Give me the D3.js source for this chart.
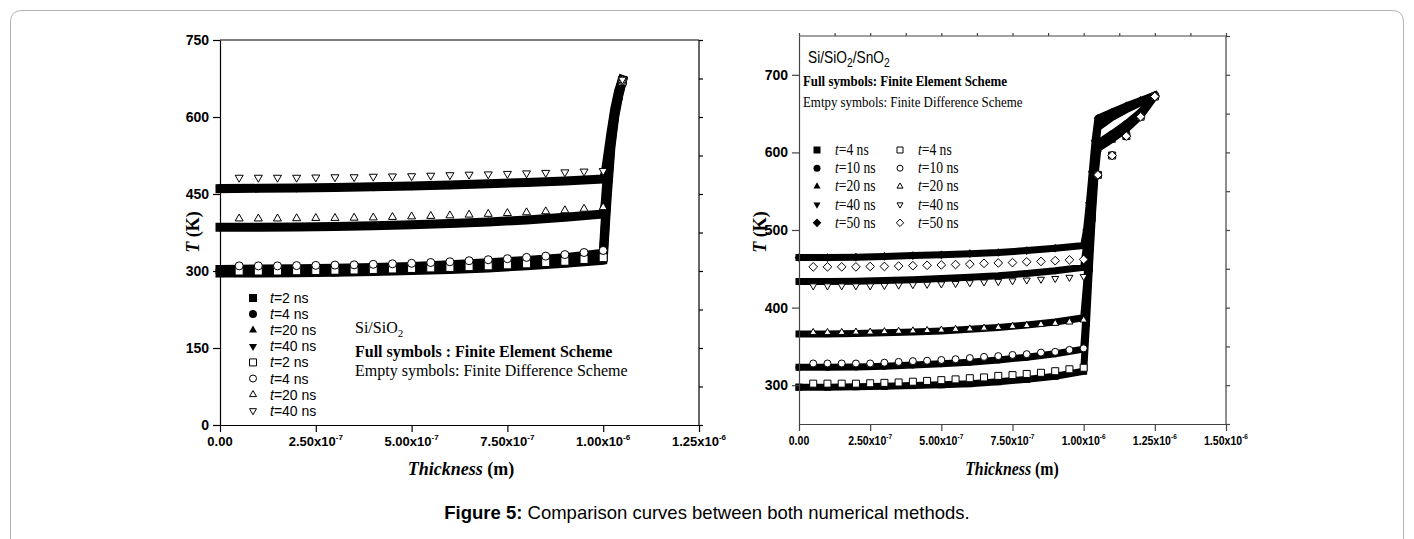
<!DOCTYPE html>
<html>
<head>
<meta charset="utf-8">
<script src="https://cdn.jsdelivr.net/npm/d3@7"></script>
<style>
  html, body { margin: 0; padding: 0; background: #fff; }
  svg { display: block; }
</style>
</head>
<body>
<svg id="fig" width="1414" height="539"></svg>
<script>
// ---------------- Si/SiO2 (left panel) ----------------
// Finite element scheme (full symbols): positions in metres
const siFEx = [0, 1e-7, 2e-7, 3e-7, 4e-7, 5e-7, 6e-7, 7e-7, 8e-7, 9e-7, 1e-6,
               1.005e-6, 1.01e-6, 1.02e-6, 1.03e-6, 1.04e-6, 1.05e-6];
const siFE_2ns  = [296, 296, 296.5, 297.5, 299, 301, 303, 306, 310, 315, 321, 381, 440, 540, 600, 640, 670];
const siFE_4ns  = [303, 304, 304.5, 305.5, 307, 309, 312, 316, 320.5, 326, 334.5, 395, 455, 548, 605, 643, 671];
const siFE_20ns = [385, 385, 385.5, 386.5, 388, 390, 392.5, 395.5, 399.5, 404.5, 411, 430, 480, 558, 610, 646, 672];
const siFE_40ns = [460.5, 461, 461.5, 462.5, 464, 465.5, 467.5, 470, 472.5, 475.5, 479, 490, 515, 568, 615, 650, 673];

// Finite difference scheme (empty symbols)
const siFDx = [5e-8, 1e-7, 1.5e-7, 2e-7, 2.5e-7, 3e-7, 3.5e-7, 4e-7, 4.5e-7, 5e-7, 5.5e-7,
               6e-7, 6.5e-7, 7e-7, 7.5e-7, 8e-7, 8.5e-7, 9e-7, 9.5e-7, 1e-6, 1.05e-6];
const siFD_2ns  = [300, 300, 300, 300.5, 301, 301.5, 302, 303, 304, 305, 306, 307, 308.5, 310, 312, 314, 316.5, 319, 322.5, 326, 670];
const siFD_4ns  = [310, 310, 310, 310.5, 311, 311.5, 312, 313, 314, 315, 316.5, 318, 320, 322, 324, 326.5, 329, 332, 336, 340, 671];
const siFD_20ns = [402, 402, 402, 402.5, 403, 403, 403.5, 404, 405, 406, 407, 408, 409.5, 411, 412.5, 414, 416, 418, 421, 424, 672];
const siFD_40ns = [482, 482, 482, 482, 482.5, 483, 483, 484, 484.5, 485, 486, 487, 488, 488.5, 489.5, 490.5, 491.5, 492.5, 494, 495, 673];

const siTimes = ["2", "4", "20", "40"];
const siShapes = ["square", "circle", "up", "down"];

const siXTicks = [0, 2.5e-7, 5e-7, 7.5e-7, 1e-6, 1.25e-6];
const siXTickMantissa = ["0.00", "2.50", "5.00", "7.50", "1.00", "1.25"];
const siXTickExponent = ["", "-7", "-7", "-7", "-6", "-6"];
const siYTicks = [0, 150, 300, 450, 600, 750];

// ---------------- Si/SiO2/SnO2 (right panel) ----------------
const snFEx = [0, 1e-7, 2e-7, 3e-7, 4e-7, 5e-7, 6e-7, 7e-7, 8e-7, 9e-7, 1e-6,
               1.01e-6, 1.02e-6, 1.03e-6, 1.04e-6, 1.05e-6, 1.1e-6, 1.15e-6, 1.2e-6, 1.25e-6];
const snFE_4ns  = [297.5, 297.5, 298, 298.5, 299.5, 300.5, 302, 304.5, 307.5, 311.5, 318, 380, 450, 515, 570, 605, 617, 630, 647, 672];
const snFE_10ns = [323, 323, 323.5, 324.5, 326, 327.5, 329.5, 332.5, 336, 340.5, 346.5, 400, 465, 525, 580, 612, 624, 637, 652, 672.5];
const snFE_20ns = [366, 366, 366.5, 367.5, 368.5, 370, 372, 374.5, 377.5, 381.5, 387, 430, 485, 540, 595, 632, 645, 655, 664, 673];
const snFE_40ns = [433.5, 433.5, 434, 435, 436, 437.5, 439, 441, 444, 447.5, 452, 480, 520, 560, 605, 638, 649, 658, 666, 673.5];
const snFE_50ns = [464.5, 464.5, 465, 466, 467, 468, 469.5, 471, 473.5, 476.5, 480, 500, 535, 575, 615, 644, 652, 660, 667, 674];

const snFDx = [5e-8, 1e-7, 1.5e-7, 2e-7, 2.5e-7, 3e-7, 3.5e-7, 4e-7, 4.5e-7, 5e-7, 5.5e-7,
               6e-7, 6.5e-7, 7e-7, 7.5e-7, 8e-7, 8.5e-7, 9e-7, 9.5e-7, 1e-6,
               1.05e-6, 1.1e-6, 1.15e-6, 1.2e-6, 1.25e-6];
const snFD_4ns  = [302, 302, 302, 302, 302.5, 303, 303.5, 304.5, 305.5, 306.5, 307.5, 309, 310, 312, 313, 314.5, 316, 318, 320.5, 322.5, 571, 596, 621, 646, 672];
const snFD_10ns = [328, 328, 328, 328, 328, 329, 330, 331, 331.5, 332.5, 333.5, 335, 336.5, 337.5, 339, 340, 342, 343, 345.5, 347.5, 571.5, 596.5, 621.5, 646.5, 672];
const snFD_20ns = [368, 368, 368, 368.5, 368.5, 369, 369.5, 370, 370.5, 371, 372, 372.5, 373.5, 374.5, 375.8, 377, 378.4, 379.7, 381.4, 384, 571, 596, 621, 646, 672];
const snFD_40ns = [428, 428, 428, 428, 428, 428.5, 429, 429.5, 430, 430.5, 431, 432, 433, 433.5, 434.5, 435.5, 436.5, 437.5, 439, 440, 570.5, 595.5, 621, 646, 672];
const snFD_50ns = [452.5, 452.5, 452.5, 452.5, 453, 453, 453.5, 454, 454.5, 455, 455.5, 456, 457, 457.5, 458, 459, 459.5, 460.5, 461.5, 462, 571, 596, 621, 646, 672];

const snTimes = ["4", "10", "20", "40", "50"];
const snShapes = ["square", "circle", "up", "down", "diamond"];

const snXTicks = [0, 2.5e-7, 5e-7, 7.5e-7, 1e-6, 1.25e-6, 1.5e-6];
const snXTickMantissa = ["0.00", "2.50", "5.00", "7.50", "1.00", "1.25", "1.50"];
const snXTickExponent = ["", "-7", "-7", "-7", "-6", "-6", "-6"];
const snYTicks = [300, 400, 500, 600, 700];

// ---------------- drawing ----------------
const svg = d3.select("#fig");
svg.append("rect").attr("width", 1414).attr("height", 539).attr("fill", "#fff");

// rounded page frame
svg.append("path")
  .attr("d", "M10.5,539 V22 Q10.5,10.5 22,10.5 H1392 Q1403.5,10.5 1403.5,22 V539")
  .attr("fill", "none").attr("stroke", "#b4b4b4").attr("stroke-width", 1);

const SANS = "'Liberation Sans', Arial, sans-serif";
const SERIF = "'Liberation Serif', 'Times New Roman', serif";

function shapePath(shape, w) {
  const h = w / 2;
  if (shape === "square") return `M${-h},${-h}h${w}v${w}h${-w}Z`;
  if (shape === "circle") return d3.symbol(d3.symbolCircle, Math.PI * h * h)();
  if (shape === "diamond") { const r = w * 0.62; return `M0,${-r}L${r},0L0,${r}L${-r},0Z`; }
  const H = w * 0.866;
  if (shape === "up") return `M0,${-2 * H / 3}L${h},${H / 3}L${-h},${H / 3}Z`;
  return `M0,${2 * H / 3}L${h},${-H / 3}L${-h},${-H / 3}Z`; // down
}

function zip(xs, ys) { return xs.map((v, i) => [v, ys[i]]); }

// condense a text element horizontally about its anchor x
function squeeze(sel, f) {
  const x0 = +sel.attr("x");
  sel.attr("transform", `translate(${x0},0) scale(${f},1) translate(${-x0},0)`);
}

function drawPanel(p) {
  const g = svg.append("g");
  const x = d3.scaleLinear().domain(p.xDomain).range([p.left, p.right]);
  const y = d3.scaleLinear().domain(p.yDomain).range([p.bottom, p.top]);

  // FE curves: dense full symbols rendered as a thick band
  const line = d3.line().x(d => x(d[0])).y(d => y(d[1])).curve(d3.curveLinear);
  p.fe.forEach((s, i) => {
    const pts = zip(p.feX, s);
    g.append("path").attr("d", line(pts)).attr("fill", "none")
      .attr("stroke", "#000").attr("stroke-width", p.band)
      .attr("stroke-linejoin", "round").attr("stroke-linecap", "square");
    g.selectAll(null).data(pts).join("path")
      .attr("transform", d => `translate(${x(d[0])},${y(d[1])})`)
      .attr("d", shapePath(p.shapes[i], p.feSize))
      .attr("fill", "#000");
  });
  // FD curves: empty symbols
  p.fd.forEach((s, i) => {
    const pts = zip(p.fdX, s);
    g.selectAll(null).data(pts).join("path")
      .attr("transform", d => `translate(${x(d[0])},${y(d[1])})`)
      .attr("d", shapePath(p.shapes[i], p.fdSize))
      .attr("fill", "#fff").attr("stroke", "#000").attr("stroke-width", 1);
  });

  const ax = p.axisColor;
  // frame lines
  g.append("line").attr("x1", p.left).attr("x2", p.right).attr("y1", p.top).attr("y2", p.top).attr("stroke", ax).attr("stroke-width", 1.2);
  g.append("line").attr("x1", p.right).attr("x2", p.right).attr("y1", p.top).attr("y2", p.bottom).attr("stroke", ax).attr("stroke-width", 1.2);

  // bottom axis
  const xMinor = d3.range(p.xDomain[0], p.xDomain[1] + 1e-12, p.xMinorStep);
  const bottom = g.append("g").attr("transform", `translate(0,${p.bottom})`);
  bottom.call(d3.axisBottom(x).tickValues(xMinor).tickSize(4).tickSizeOuter(0).tickFormat(""));
  bottom.call(d3.axisBottom(x).tickValues(p.xTicks).tickSize(7).tickSizeOuter(0).tickFormat(""));
  bottom.selectAll("path.domain, line").attr("stroke", ax).attr("stroke-width", 1.2);

  // x tick labels with superscript exponent
  p.xTicks.forEach((v, i) => {
    const t = g.append("text").attr("x", x(v)).attr("y", p.bottom + 21)
      .attr("text-anchor", "middle").attr("font-family", SANS).attr("font-weight", "bold")
      .attr("font-size", p.tickFont).attr("fill", "#000");
    if (p.xExp[i] === "") {
      t.text(p.xMant[i]);
    } else {
      t.append("tspan").text(p.xMant[i] + "x10");
      t.append("tspan").attr("dy", -6).attr("font-size", p.tickFont * 0.62).text(p.xExp[i]);
    }
    if (p.squeezeTicks) squeeze(t, p.squeezeTicks);
  });

  // left axis
  const yMinor = d3.range(p.yDomain[0], p.yDomain[1] + 1e-9, p.yMinorStep);
  const leftAx = g.append("g").attr("transform", `translate(${p.left},0)`);
  leftAx.call(d3.axisLeft(y).tickValues(yMinor).tickSize(4).tickSizeOuter(0).tickFormat(""));
  leftAx.call(d3.axisLeft(y).tickValues(p.yTicks).tickSize(7).tickSizeOuter(0).tickFormat(""));
  leftAx.selectAll("path.domain, line").attr("stroke", ax).attr("stroke-width", 1.2);
  p.yTicks.forEach(v => {
    g.append("text").attr("x", p.left - 11).attr("y", y(v) + 5)
      .attr("text-anchor", "end").attr("font-family", SANS).attr("font-weight", "bold")
      .attr("font-size", p.yTickFont).attr("fill", "#000").text(v);
  });

  // right axis ticks (outward)
  const rightAx = g.append("g").attr("transform", `translate(${p.right},0)`);
  rightAx.call(d3.axisRight(y).tickValues(yMinor).tickSize(4).tickSizeOuter(0).tickFormat(""));
  rightAx.selectAll("path.domain").remove();
  rightAx.selectAll("line").attr("stroke", ax).attr("stroke-width", 1.2);
  if (p.topTicks) {
    const topAx = g.append("g").attr("transform", `translate(0,${p.top})`);
    topAx.call(d3.axisTop(x).tickValues(xMinor).tickSize(3).tickSizeOuter(0).tickFormat(""));
    topAx.selectAll("path.domain").remove();
    topAx.selectAll("line").attr("stroke", ax).attr("stroke-width", 1.2);
  }

  // axis titles
  const xt = g.append("text").attr("x", p.xTitle[0]).attr("y", p.xTitle[1]).attr("text-anchor", "middle")
    .attr("font-family", SERIF).attr("font-weight", "bold").attr("font-size", 18).attr("fill", "#000");
  xt.append("tspan").attr("font-style", "italic").text("Thickness");
  xt.append("tspan").text(" (m)");
  if (p.squeezeTitle) squeeze(xt, p.squeezeTitle);
  const yt = g.append("text").attr("transform", `translate(${p.yTitle[0]},${p.yTitle[1]}) rotate(-90)`)
    .attr("text-anchor", "middle").attr("font-family", SERIF).attr("font-weight", "bold")
    .attr("font-size", 18).attr("fill", "#000");
  yt.append("tspan").attr("font-style", "italic").text("T");
  yt.append("tspan").text(" (K)");

  return { g, x, y };
}

// ---- left panel ----
const L = drawPanel({
  left: 220, right: 699, top: 40, bottom: 425,
  xDomain: [0, 1.25e-6], yDomain: [0, 750],
  feX: siFEx, fe: [siFE_2ns, siFE_4ns, siFE_20ns, siFE_40ns],
  fdX: siFDx, fd: [siFD_2ns, siFD_4ns, siFD_20ns, siFD_40ns],
  shapes: siShapes, band: 9, feSize: 8, fdSize: 8,
  axisColor: "#000", xTicks: siXTicks, xMant: siXTickMantissa, xExp: siXTickExponent,
  xMinorStep: 1.25e-7, yTicks: siYTicks, yMinorStep: 75,
  tickFont: 13, yTickFont: 14, topTicks: false,
  xTitle: [461, 475], yTitle: [199, 232]
});

// legend: full symbols then empty symbols
const legL = L.g.append("g");
const legRows = siTimes.map((t, i) => ({ t, shape: siShapes[i], full: true }))
  .concat(siTimes.map((t, i) => ({ t, shape: siShapes[i], full: false })));
legRows.forEach((r, i) => {
  const yy = 298 + i * 16.1;
  legL.append("path").attr("transform", `translate(253,${yy})`)
    .attr("d", shapePath(r.shape, r.full ? 8 : 7))
    .attr("fill", r.full ? "#000" : "#fff").attr("stroke", "#000").attr("stroke-width", r.full ? 0 : 1);
  const tx = legL.append("text").attr("x", 270).attr("y", yy + 5)
    .attr("font-family", SANS).attr("font-size", 14).attr("fill", "#000");
  tx.append("tspan").attr("font-style", "italic").text("t");
  tx.append("tspan").text("=" + r.t + " ns");
});

const noteL = L.g.append("g").attr("font-family", SERIF).attr("fill", "#000");
const n1 = noteL.append("text").attr("x", 355).attr("y", 333).attr("font-size", 16);
n1.append("tspan").text("Si/SiO");
n1.append("tspan").attr("dy", 4).attr("font-size", 11).text("2");
noteL.append("text").attr("x", 355).attr("y", 357).attr("font-size", 16).attr("font-weight", "bold")
  .text("Full symbols : Finite Element Scheme");
noteL.append("text").attr("x", 355).attr("y", 376).attr("font-size", 16)
  .text("Empty symbols: Finite Difference Scheme");

// ---- right panel ----
const R = drawPanel({
  left: 799, right: 1226, top: 36, bottom: 424,
  xDomain: [0, 1.5e-6], yDomain: [250, 750],
  feX: snFEx, fe: [snFE_4ns, snFE_10ns, snFE_20ns, snFE_40ns, snFE_50ns],
  fdX: snFDx, fd: [snFD_4ns, snFD_10ns, snFD_20ns, snFD_40ns, snFD_50ns],
  shapes: snShapes, band: 7, feSize: 7, fdSize: 7,
  axisColor: "#444", xTicks: snXTicks, xMant: snXTickMantissa, xExp: snXTickExponent,
  xMinorStep: 1.25e-7, yTicks: snYTicks, yMinorStep: 50,
  tickFont: 12, yTickFont: 14, topTicks: true, squeezeTicks: 0.88, squeezeTitle: 0.88,
  xTitle: [1012, 475], yTitle: [766, 232]
});

const legR = R.g.append("g");
snTimes.forEach((t, i) => {
  const yy = 150 + i * 18.2;
  [[817, 835, true], [900, 918, false]].forEach(([mx, tx0, full]) => {
    legR.append("path").attr("transform", `translate(${mx},${yy})`)
      .attr("d", shapePath(snShapes[i], full ? 7 : 6))
      .attr("fill", full ? "#000" : "#fff").attr("stroke", "#000").attr("stroke-width", full ? 0 : 1);
    const tx = legR.append("text").attr("x", tx0).attr("y", yy + 5)
      .attr("font-family", SERIF).attr("font-size", 16).attr("fill", "#000");
    tx.append("tspan").attr("font-style", "italic").text("t");
    tx.append("tspan").text("=" + t + " ns");
    squeeze(tx, 0.85);
  });
});

const noteR = R.g.append("g").attr("fill", "#000");
const m1 = noteR.append("text").attr("x", 808).attr("y", 63).attr("font-family", SANS).attr("font-size", 16);
m1.append("tspan").text("Si/SiO");
m1.append("tspan").attr("dy", 4).attr("font-size", 12).text("2");
m1.append("tspan").attr("dy", -4).text("/SnO");
m1.append("tspan").attr("dy", 4).attr("font-size", 12).text("2");
squeeze(m1, 0.86);
const m2 = noteR.append("text").attr("x", 803).attr("y", 86).attr("font-family", SERIF)
  .attr("font-size", 15).attr("font-weight", "bold").text("Full symbols: Finite Element Scheme");
squeeze(m2, 0.86);
const m3 = noteR.append("text").attr("x", 803).attr("y", 107).attr("font-family", SERIF)
  .attr("font-size", 15).text("Emtpy symbols: Finite Difference Scheme");
squeeze(m3, 0.86);

// caption
const cap = svg.append("text").attr("x", 707).attr("y", 519).attr("text-anchor", "middle")
  .attr("font-family", SANS).attr("font-size", 18.5).attr("fill", "#000");
cap.append("tspan").attr("font-weight", "bold").text("Figure 5:");
cap.append("tspan").text(" Comparison curves between both numerical methods.");
</script>
</body>
</html>
